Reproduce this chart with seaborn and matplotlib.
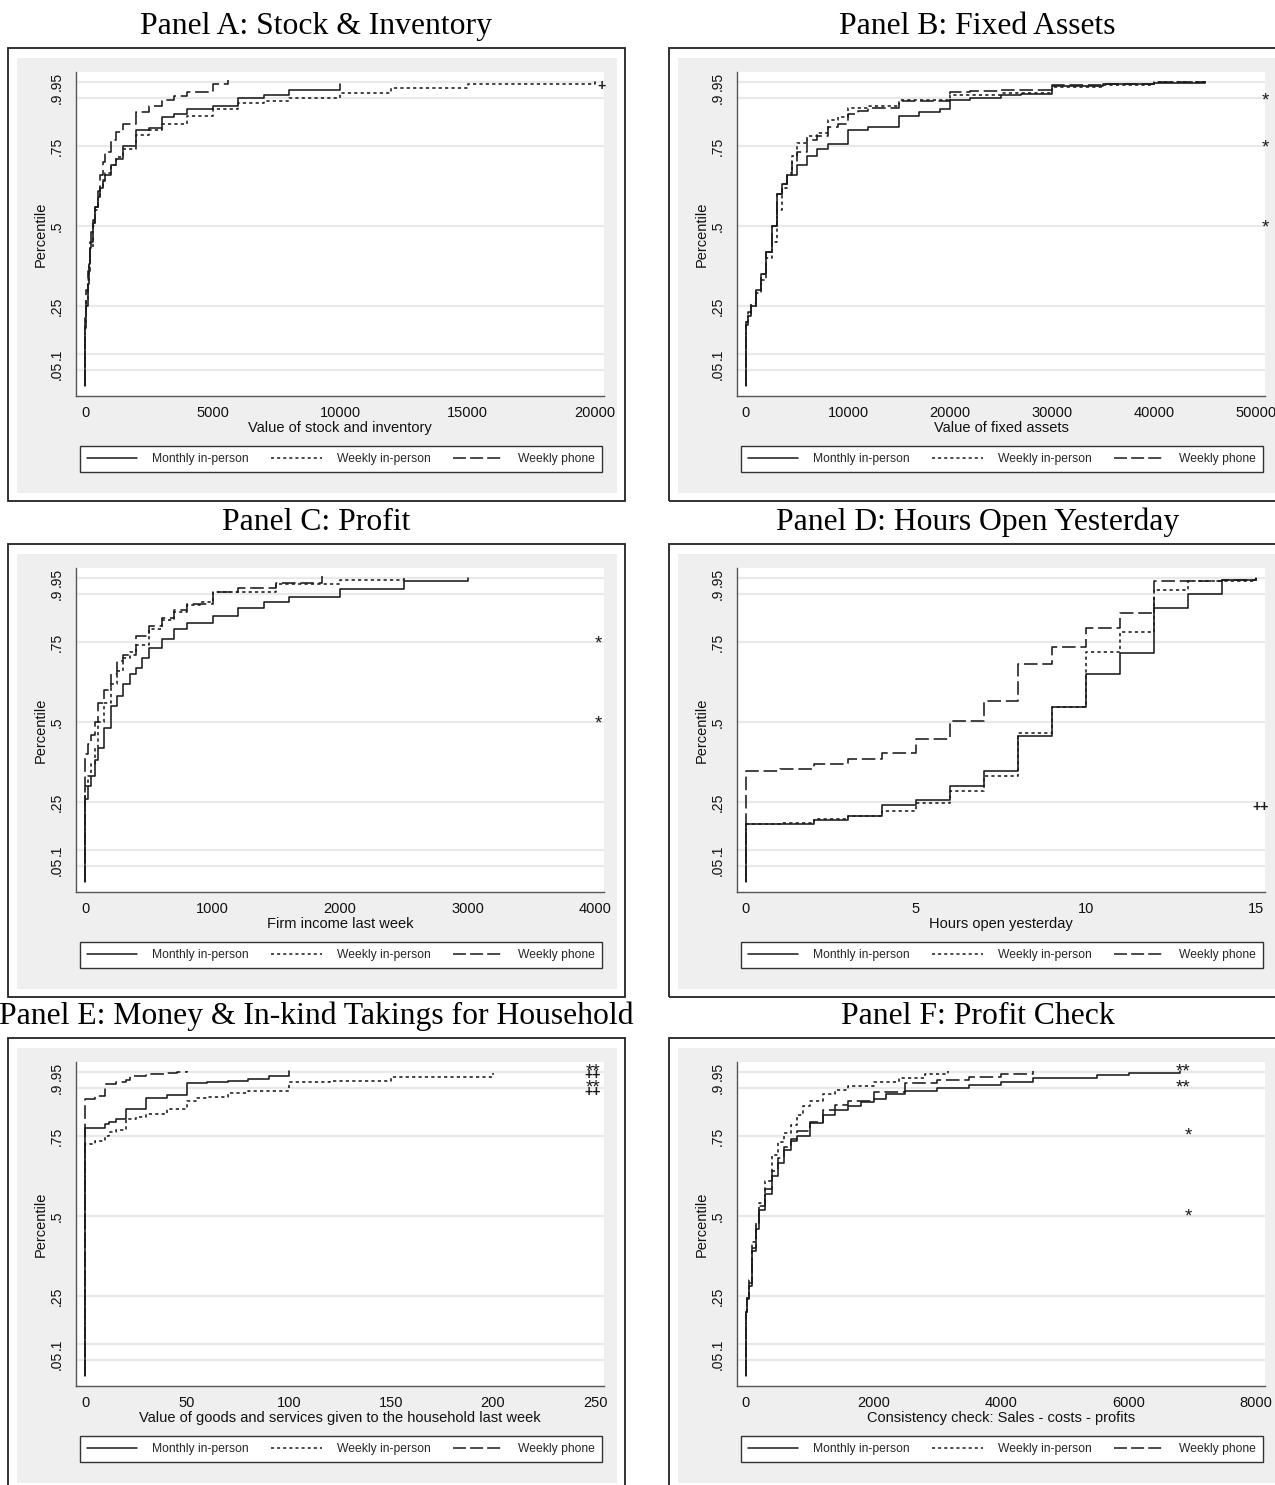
import matplotlib
matplotlib.use("Agg")
import numpy as np
import pandas as pd
import matplotlib.pyplot as plt
import matplotlib.transforms as mtransforms
import seaborn as sns
from matplotlib.lines import Line2D
from matplotlib.patches import Rectangle

modes = ["Monthly in-person", "Weekly in-person", "Weekly phone"]
pct_ticks = [0.05, 0.1, 0.25, 0.5, 0.75, 0.9, 0.95]
pct_labels = [".05", ".1", ".25", ".5", ".75", ".9", ".95"]

# Panel A: stock & inventory
a_mon_x = [0, 0, 50, 100, 150, 200, 250, 300, 400, 500, 600, 700, 800, 1000, 1200, 1500, 2000, 2500, 3000, 3500, 4000, 5000, 6000, 7000, 8000, 10000]
a_mon_y = [0.0, 0.18, 0.25, 0.32, 0.38, 0.43, 0.48, 0.52, 0.56, 0.59, 0.62, 0.64, 0.66, 0.69, 0.71, 0.75, 0.80, 0.805, 0.84, 0.85, 0.865, 0.875, 0.90, 0.91, 0.925, 0.945]
a_wip_x = [0, 0, 50, 100, 150, 200, 300, 400, 500, 600, 700, 800, 1000, 1200, 1500, 2000, 2500, 3000, 4000, 5000, 6000, 7000, 8000, 10000, 12000, 15000, 20000]
a_wip_y = [0.0, 0.2, 0.27, 0.33, 0.38, 0.43, 0.5, 0.55, 0.59, 0.62, 0.645, 0.665, 0.69, 0.715, 0.74, 0.785, 0.80, 0.82, 0.845, 0.865, 0.885, 0.89, 0.90, 0.915, 0.93, 0.945, 0.952]
a_wph_x = [0, 0, 50, 100, 200, 300, 400, 500, 600, 700, 800, 1000, 1200, 1500, 2000, 2500, 3000, 3500, 4000, 5000, 5600]
a_wph_y = [0.0, 0.22, 0.3, 0.36, 0.45, 0.51, 0.56, 0.61, 0.66, 0.70, 0.73, 0.77, 0.795, 0.82, 0.855, 0.875, 0.895, 0.905, 0.92, 0.945, 0.955]

# Panel B: fixed assets
b_mon_x = [0, 0, 200, 500, 1000, 1500, 2000, 2500, 3000, 3500, 4000, 5000, 6000, 7000, 8000, 10000, 12000, 15000, 17000, 19000, 20000, 22000, 25000, 27000, 30000, 35000, 40000, 45000]
b_mon_y = [0.0, 0.19, 0.22, 0.25, 0.3, 0.35, 0.42, 0.5, 0.6, 0.63, 0.66, 0.69, 0.72, 0.74, 0.755, 0.80, 0.81, 0.845, 0.855, 0.865, 0.895, 0.90, 0.908, 0.912, 0.938, 0.944, 0.948, 0.95]
b_wip_x = [0, 0, 200, 500, 1000, 1500, 2000, 2500, 3000, 3500, 4000, 4500, 5000, 6000, 7000, 8000, 9000, 10000, 12000, 15000, 20000, 25000, 30000, 35000, 40000, 45000]
b_wip_y = [0.0, 0.2, 0.22, 0.25, 0.29, 0.33, 0.40, 0.45, 0.55, 0.62, 0.66, 0.72, 0.76, 0.78, 0.79, 0.83, 0.84, 0.87, 0.875, 0.895, 0.91, 0.915, 0.935, 0.94, 0.95, 0.952]
b_wph_x = [0, 0, 200, 500, 1000, 1500, 2000, 2500, 3000, 3500, 4000, 4500, 5000, 6000, 7000, 8000, 9000, 10000, 11000, 12000, 15000, 20000, 22000, 25000, 30000, 35000, 40000, 45000]
b_wph_y = [0.0, 0.2, 0.23, 0.26, 0.3, 0.35, 0.42, 0.5, 0.6, 0.63, 0.665, 0.70, 0.73, 0.77, 0.78, 0.81, 0.82, 0.85, 0.86, 0.87, 0.89, 0.92, 0.923, 0.926, 0.94, 0.945, 0.95, 0.952]

# Panel C: profit
c_mon_x = [0, 0, 25, 50, 75, 100, 150, 200, 250, 300, 350, 400, 450, 500, 600, 700, 800, 1000, 1200, 1400, 1600, 2000, 2500, 3000]
c_mon_y = [0.0, 0.26, 0.30, 0.33, 0.38, 0.42, 0.48, 0.55, 0.58, 0.62, 0.65, 0.67, 0.70, 0.73, 0.76, 0.79, 0.81, 0.83, 0.855, 0.875, 0.89, 0.915, 0.94, 0.95]
c_wip_x = [0, 0, 25, 50, 75, 100, 150, 200, 250, 300, 350, 400, 500, 600, 700, 800, 900, 1000, 1500, 2000, 2500]
c_wip_y = [0.0, 0.30, 0.33, 0.37, 0.42, 0.50, 0.56, 0.62, 0.66, 0.70, 0.72, 0.74, 0.79, 0.82, 0.845, 0.865, 0.875, 0.905, 0.93, 0.945, 0.955]
c_wph_x = [0, 0, 25, 50, 75, 100, 150, 200, 250, 300, 400, 500, 600, 700, 800, 1000, 1200, 1500, 1860]
c_wph_y = [0.0, 0.40, 0.43, 0.46, 0.50, 0.56, 0.60, 0.65, 0.69, 0.71, 0.77, 0.80, 0.825, 0.85, 0.87, 0.905, 0.92, 0.935, 0.955]

# Panel D: hours open yesterday
d_mon_x = [0, 0, 1, 2, 3, 4, 5, 6, 7, 8, 9, 10, 11, 12, 13, 14, 15]
d_mon_y = [0.0, 0.18, 0.182, 0.195, 0.207, 0.24, 0.255, 0.30, 0.347, 0.456, 0.548, 0.65, 0.714, 0.857, 0.90, 0.945, 0.95]
d_wip_x = [0, 0, 1, 2, 3, 4, 5, 6, 7, 8, 9, 10, 11, 12, 13, 15]
d_wip_y = [0.0, 0.18, 0.185, 0.196, 0.207, 0.222, 0.247, 0.284, 0.33, 0.465, 0.548, 0.72, 0.78, 0.913, 0.94, 0.95]
d_wph_x = [0, 0, 1, 2, 3, 4, 5, 6, 7, 8, 9, 10, 11, 12, 14, 15]
d_wph_y = [0.0, 0.347, 0.354, 0.368, 0.383, 0.404, 0.446, 0.503, 0.565, 0.68, 0.735, 0.795, 0.842, 0.94, 0.945, 0.95]

# Panel E: money & in-kind takings for household
e_mon_x = [0, 0, 10, 12, 15, 20, 30, 40, 50, 60, 70, 80, 90, 100]
e_mon_y = [0.0, 0.776, 0.786, 0.795, 0.804, 0.833, 0.87, 0.878, 0.914, 0.917, 0.922, 0.929, 0.937, 0.952]
e_wip_x = [0, 0, 5, 10, 12, 15, 20, 25, 30, 40, 50, 55, 60, 70, 80, 100, 120, 150, 200]
e_wip_y = [0.0, 0.724, 0.734, 0.75, 0.762, 0.768, 0.804, 0.81, 0.818, 0.833, 0.86, 0.87, 0.873, 0.885, 0.89, 0.917, 0.922, 0.934, 0.948]
e_wph_x = [0, 0, 5, 10, 15, 20, 22, 30, 40, 45, 50]
e_wph_y = [0.0, 0.865, 0.875, 0.911, 0.92, 0.926, 0.9375, 0.942, 0.948, 0.95, 0.953]

# Panel F: profit check
f_mon_x = [0, 0, 20, 50, 100, 150, 200, 300, 400, 500, 600, 700, 800, 1000, 1200, 1400, 1600, 1800, 2000, 2200, 2500, 3000, 3500, 4000, 4500, 5000, 5500, 6000, 6800]
f_mon_y = [0.0, 0.2, 0.24, 0.28, 0.39, 0.46, 0.52, 0.57, 0.625, 0.665, 0.705, 0.735, 0.75, 0.79, 0.815, 0.83, 0.845, 0.855, 0.865, 0.88, 0.89, 0.90, 0.91, 0.92, 0.93, 0.932, 0.94, 0.948, 0.952]
f_wip_x = [0, 0, 20, 50, 100, 150, 200, 300, 400, 500, 600, 700, 800, 900, 1000, 1200, 1400, 1600, 2000, 2400, 2800, 3175]
f_wip_y = [0.0, 0.2, 0.25, 0.3, 0.42, 0.48, 0.54, 0.61, 0.69, 0.73, 0.76, 0.785, 0.815, 0.845, 0.86, 0.88, 0.895, 0.905, 0.92, 0.932, 0.945, 0.953]
f_wph_x = [0, 0, 20, 50, 100, 150, 200, 300, 400, 500, 600, 700, 800, 1000, 1200, 1400, 1600, 2000, 2500, 3000, 3500, 4000, 4500]
f_wph_y = [0.0, 0.2, 0.245, 0.29, 0.4, 0.47, 0.53, 0.585, 0.64, 0.68, 0.715, 0.74, 0.765, 0.795, 0.83, 0.848, 0.86, 0.887, 0.915, 0.925, 0.935, 0.945, 0.953]

titles = ["Panel A: Stock & Inventory", "Panel B: Fixed Assets", "Panel C: Profit",
          "Panel D: Hours Open Yesterday", "Panel E: Money & In-kind Takings for Household",
          "Panel F: Profit Check"]
xlabels = ["Value of stock and inventory", "Value of fixed assets", "Firm income last week",
           "Hours open yesterday", "Value of goods and services given to the household last week",
           "Consistency check: Sales - costs - profits"]
xticks = [[0, 5000, 10000, 15000, 20000], [0, 10000, 20000, 30000, 40000, 50000],
          [0, 1000, 2000, 3000, 4000], [0, 5, 10, 15], [0, 50, 100, 150, 200, 250],
          [0, 2000, 4000, 6000, 8000]]
curves = [
    [(a_mon_x, a_mon_y), (a_wip_x, a_wip_y), (a_wph_x, a_wph_y)],
    [(b_mon_x, b_mon_y), (b_wip_x, b_wip_y), (b_wph_x, b_wph_y)],
    [(c_mon_x, c_mon_y), (c_wip_x, c_wip_y), (c_wph_x, c_wph_y)],
    [(d_mon_x, d_mon_y), (d_wip_x, d_wip_y), (d_wph_x, d_wph_y)],
    [(e_mon_x, e_mon_y), (e_wip_x, e_wip_y), (e_wph_x, e_wph_y)],
    [(f_mon_x, f_mon_y), (f_wip_x, f_wip_y), (f_wph_x, f_wph_y)],
]
# significance marks: (x, percentile, text)
marks = [
    [(20270, 0.94, "+")],
    [(50900, 0.91, "*"), (50900, 0.7625, "*"), (50900, 0.5125, "*")],
    [(4030, 0.7625, "*"), (4030, 0.5125, "*")],
    [(15.15, 0.2375, "++")],
    [(249, 0.970, "**"), (249, 0.944, "++"), (249, 0.919, "**"), (249, 0.891, "++")],
    [(6850, 0.969, "**"), (6850, 0.919, "**"), (6940, 0.77, "*"), (6940, 0.516, "*")],
]

sns.set_style("white")
plt.rcParams["font.family"] = ["Liberation Sans", "DejaVu Sans"]

W, H = 1275, 1485
fig = plt.figure(figsize=(W / 100, H / 100), dpi=100)
col_left = [8, 669]
row_top = [48, 544, 1038]
ink = "#1a1a1a"
dash_map = {"Monthly in-person": "", "Weekly in-person": (2, 2), "Weekly phone": (8.5, 3)}


def fx(px):
    return px / W


def fy(py):
    return 1 - py / H


for i in range(6):
    fl = col_left[i % 2]
    ft = row_top[i // 2]
    fig.patches.append(Rectangle((fx(fl + 9), fy(ft + 445)), 600 / W, 435 / H,
                                 transform=fig.transFigure, facecolor="#efefef",
                                 edgecolor="none", zorder=-2))
    fig.patches.append(Rectangle((fx(fl), fy(ft + 453)), 617 / W, 453 / H,
                                 transform=fig.transFigure, fill=False,
                                 edgecolor="#222222", lw=1.3, zorder=-1))
    fig.text(fx(fl + 308.5), fy(ft - 14), titles[i], ha="center", va="baseline",
             fontsize=22.8, family="Liberation Serif", color="black")

    ax = fig.add_axes([fx(fl + 68), fy(ft + 348), 528 / W, 324 / H])
    ax.set_facecolor("white")

    frames = []
    for m, (xs, ys) in zip(modes, curves[i]):
        frames.append(pd.DataFrame({"value": xs, "pct": ys, "mode": m}))
    df = pd.concat(frames, ignore_index=True)
    sns.lineplot(data=df, x="value", y="pct", style="mode", style_order=modes,
                 dashes=dash_map, color=ink, linewidth=1.15, estimator=None,
                 sort=False, drawstyle="steps-post", legend=False, ax=ax)

    R = xticks[i][-1]
    ax.set_xlim(-9 / 510 * R, R + 9 / 510 * R)
    ax.set_ylim(-0.031, 0.981)
    ax.set_xticks(xticks[i])
    ax.set_xticklabels([str(t) for t in xticks[i]])
    ax.set_yticks(pct_ticks)
    ax.set_yticklabels(pct_labels, rotation=90, va="center")
    ax.yaxis.grid(True, color="#e9e9e9", lw=1.6)
    ax.xaxis.grid(False)
    ax.set_axisbelow(True)
    for s in ["top", "right"]:
        ax.spines[s].set_visible(False)
    for s in ["left", "bottom"]:
        ax.spines[s].set_color("#555555")
        ax.spines[s].set_linewidth(1.0)
    ax.tick_params(axis="both", direction="out", length=4, width=0.8, color="#555555",
                   labelcolor="#111111")
    ax.tick_params(axis="x", labelsize=10.5, pad=3)
    ax.tick_params(axis="y", labelsize=10, pad=4.5)

    ax.set_xlabel(xlabels[i], fontsize=10.5, color="#111111")
    ax.xaxis.set_label_coords(0.5, -32 / 324)
    ax.xaxis.label.set_va("center")
    ax.set_ylabel("Percentile", fontsize=10.5, color="#111111")
    ax.yaxis.set_label_coords(-35 / 528, 0.5)
    ax.yaxis.label.set_va("center")

    # put the glyph's ink centre on the level: baseline sits below by the glyph's mid-height
    for mx, my, mt in marks[i]:
        if "*" in mt:
            size, shift = 13.5, -0.575 * 13.5
        else:
            size, shift = 10, -0.353 * 10
        tr = mtransforms.offset_copy(ax.transData, fig=fig, y=shift, units="points")
        ax.text(mx, my, mt, ha="center", va="baseline", fontsize=size, color=ink,
                fontweight="bold" if mt.startswith("+") else "normal",
                transform=tr, clip_on=False)

    handles = [Line2D([0], [0], color=ink, lw=1.1),
               Line2D([0], [0], color=ink, lw=1.1, dashes=(2, 2)),
               Line2D([0], [0], color=ink, lw=1.1, dashes=(8.5, 2.7))]
    leg = ax.legend(handles, modes, ncol=3, mode="expand", loc="center",
                    bbox_to_anchor=(fx(fl + 72), fy(ft + 425), 522 / W, 28 / H),
                    bbox_transform=fig.transFigure, fontsize=8.7, handlelength=4.2,
                    handletextpad=1.2, borderpad=0.55, borderaxespad=0,
                    frameon=True, fancybox=False, framealpha=1, edgecolor="#333333")
    leg.get_frame().set_linewidth(1.0)
    leg.get_frame().set_facecolor("white")

fig.savefig("out.png", dpi=100)
